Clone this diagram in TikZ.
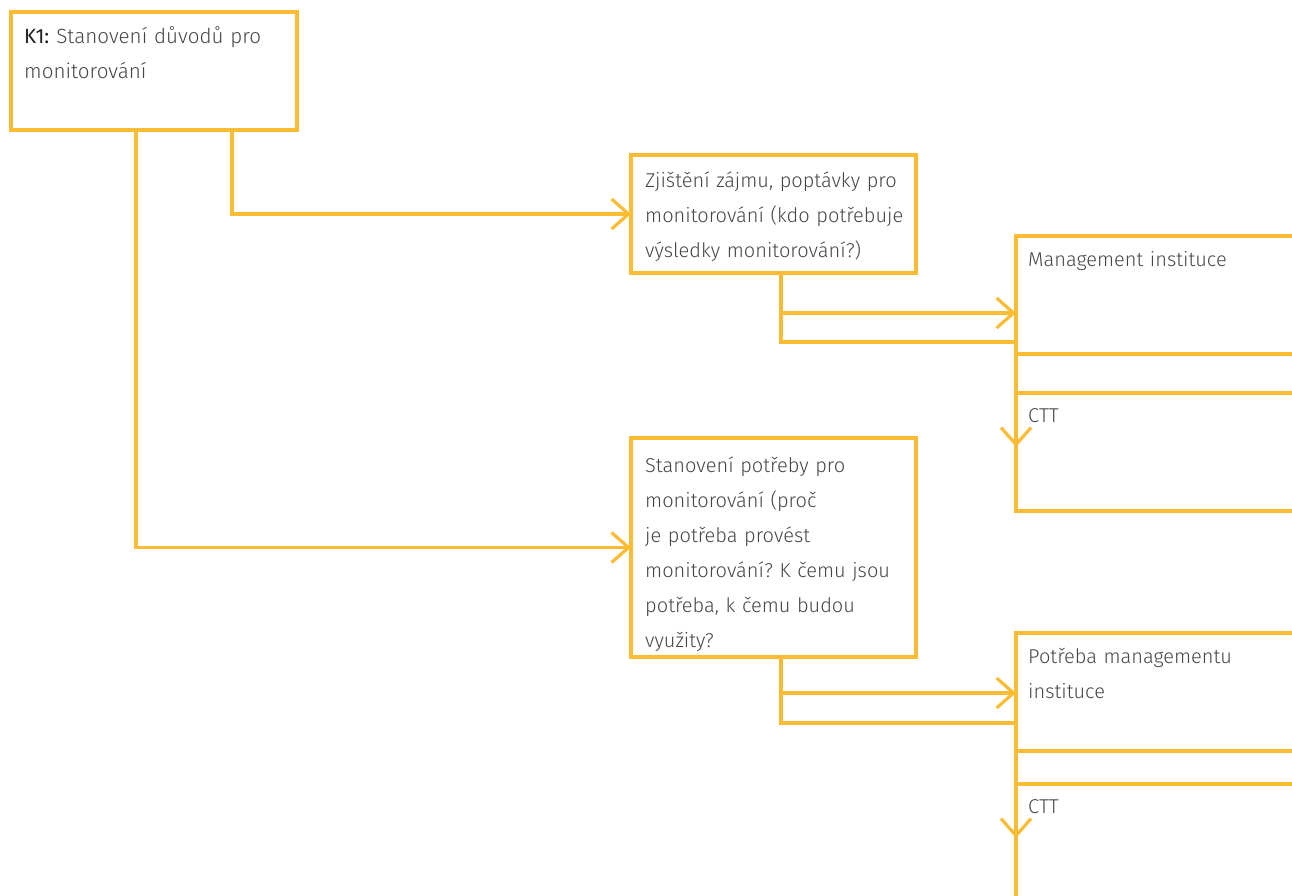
\documentclass[tikz,border=0pt]{standalone}
\usepackage{fontspec}
\setmainfont{Fira Sans Light}
\newfontfamily\kfont{Fira Sans}
\usetikzlibrary{arrows.meta,calc}
\definecolor{orn}{RGB}{251,187,51}
\definecolor{txt}{RGB}{70,70,70}
\definecolor{ktxt}{RGB}{35,35,35}
\frenchspacing
\begin{document}
\begin{tikzpicture}[x=1pt,y=-1pt,
  box/.style={draw=orn,line width=3.2pt,rectangle,inner sep=0pt,outer sep=0pt,anchor=north west},
  lbl/.style={anchor=base west,inner sep=0pt,text width=300pt,align=left,text=txt,font=\fontsize{20}{35}\selectfont},
  conn/.style={draw=orn,line width=3.2pt},
  arr/.style={conn,-{Straight Barb[length=17pt,width=30pt]}}
]
\useasboundingbox (0,0) rectangle (1292,895);
\clip (0,0) rectangle (1292,895);
% boxes
\node[box,minimum width=286pt,minimum height=118pt] (k1) at (11,12) {};
\node[box,minimum width=285pt,minimum height=118pt] (z) at (631,155) {};
\node[box,minimum width=285pt,minimum height=219pt] (s) at (631,438) {};
\node[box,minimum width=320pt,minimum height=118pt] (m) at (1016,236) {};
\node[box,minimum width=320pt,minimum height=118pt] (c1) at (1016,393) {};
\node[box,minimum width=320pt,minimum height=118pt] (p) at (1016,633) {};
\node[box,minimum width=320pt,minimum height=200pt] (c2) at (1016,784) {};
% texts
\node[lbl,font=\fontsize{20.6}{35}\selectfont] (tk1) at ($(k1.north west)+(13,31)$) {{\kfont\color{ktxt}K1:} Stanovení důvodů pro\\monitorování};
\node[lbl] (tz) at ($(z.north west)+(14,32)$) {Zjištění zájmu, poptávky pro\\monitorování (kdo potřebuje\\výsledky monitorování?)};
\node[lbl] (ts) at ($(s.north west)+(14,34)$) {Stanovení potřeby pro\\monitorování (proč\\je potřeba provést\\monitorování? K čemu jsou\\potřeba, k čemu budou\\využity?};
\node[lbl] (tm) at ($(m.north west)+(12,30)$) {Management instituce};
\node[lbl] (tc1) at ($(c1.north west)+(12,29)$) {CTT};
\node[lbl] (tp) at ($(p.north west)+(12,30)$) {Potřeba managementu\\instituce};
\node[lbl] (tc2) at ($(c2.north west)+(12,29)$) {CTT};
% connectors
\draw[arr] ($(k1.south west)+(221,0)$) |- (z.west);
\draw[arr] ($(k1.south west)+(125,0)$) |- (s.west);
\coordinate (zb) at ($(z.south west)+(150,0)$);
\coordinate (m1) at ($(m.north west)+(0,77)$);
\coordinate (m2) at ($(m.north west)+(0,106)$);
\coordinate (md) at ($(m.south west)+(0,93)$);
\draw[arr] (zb) |- (m1);
\draw[conn] (zb) |- (m2);
\draw[arr] (m.south west) -- (md);
\coordinate (sb) at ($(s.south west)+(150,0)$);
\coordinate (p1) at ($(p.north west)+(0,60)$);
\coordinate (p2) at ($(p.north west)+(0,90)$);
\coordinate (pd) at ($(p.south west)+(0,87)$);
\draw[arr] (sb) |- (p1);
\draw[conn] (sb) |- (p2);
\draw[arr] (p.south west) -- (pd);
\end{tikzpicture}
\end{document}
